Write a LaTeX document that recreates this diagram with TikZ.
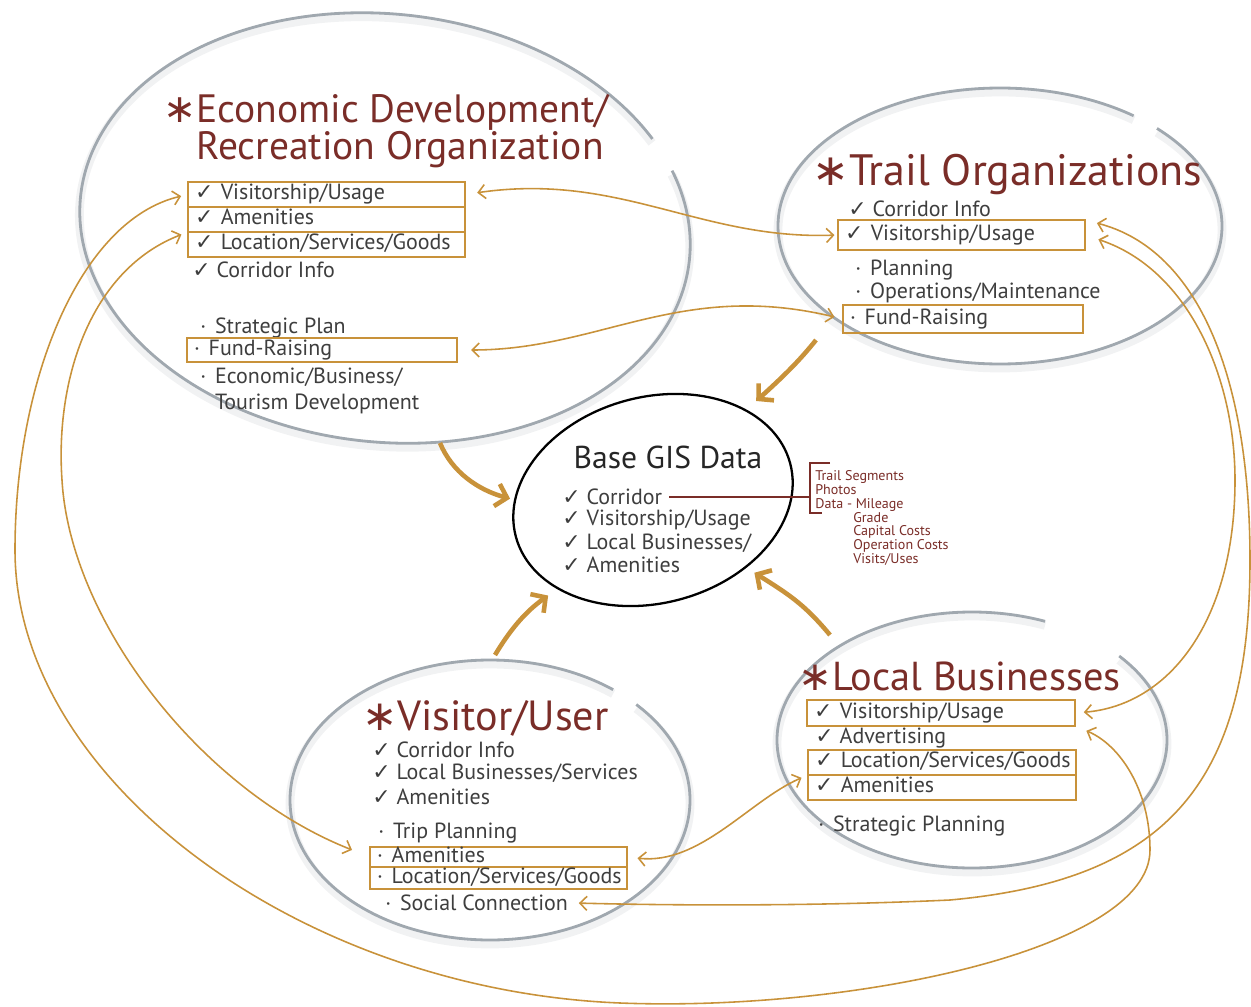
\documentclass[tikz,border=0pt]{standalone}
\usepackage{fontspec}
\setmainfont{PT Sans}
\newfontfamily\symfont{DejaVu Sans}
\usetikzlibrary{calc}
\usetikzlibrary{positioning}
\usetikzlibrary{shapes.geometric,arrows.meta}

\definecolor{ringgray}{RGB}{160,168,175}
\definecolor{boxorange}{RGB}{200,146,58}
\definecolor{titlered}{RGB}{122,45,40}
\definecolor{inkgray}{RGB}{62,62,62}

\newcommand{\chk}{{\symfont ✓}\nobreak\ }
\newcommand{\dotb}{·\nobreak\hspace{5pt}}
\newcommand{\tstar}{{\symfont ∗}}
\newcommand{\nohyph}{\hyphenpenalty=10000\relax\exhyphenpenalty=10000\relax}

\tikzset{
  ring/.style={draw=ringgray, line width=1.6pt},
  ringshade/.style={draw=ringgray!15, line width=5pt},
  title/.style={text=titlered, font=\fontsize{22.5}{21}\selectfont, anchor=west, align=left, inner sep=0pt},
  item/.style={text=inkgray, font=\fontsize{12.5}{14.5}\selectfont\nohyph,
    anchor=west, align=left, inner xsep=4pt, inner ysep=1pt},
  hl/.style={item, draw=boxorange, line width=1.1pt, outer sep=0pt, inner ysep=0pt, text width=#1,
    minimum height=0.5cm, text height=8.5pt, text depth=2.5pt},
  link/.style={draw=boxorange, line width=0.9pt, <->, >={Straight Barb[length=4pt,width=8pt]}},
  feed/.style={draw=boxorange, line width=2.6pt, -{Straight Barb[length=6pt,width=13pt]}},
  note/.style={text=titlered, font=\fontsize{8}{7.9}\selectfont, align=left, inner sep=0pt},
}

\begin{document}
\begin{tikzpicture}[x=0.02cm, y=-0.02cm]
  \useasboundingbox (0,0) rectangle (1251,1007);

  % open rings round the four groups
  \foreach \cx/\cy/\rx/\ry/\rot/\sa/\ea in {385/228/306/214/-6/-24/327, 1000/226/222/138/0/-45/307,
      490/800/200/140/0/-43/308, 972/740/195/128/0/-41/292} {
    \draw[ringshade, rotate around={\rot:(\cx,\cy)}] ({\cx+\rx*cos(\sa)},{\cy+4+\ry*sin(\sa)})
      arc[start angle=\sa, end angle=\ea, x radius=\rx, y radius=\ry];
    \draw[ring, rotate around={\rot:(\cx,\cy)}] ({\cx+\rx*cos(\sa)},{\cy+\ry*sin(\sa)})
      arc[start angle=\sa, end angle=\ea, x radius=\rx, y radius=\ry];
  }

  % Economic Development
  \node[title] (econTitle) at (163,131) {\tstar Economic Development/\\\phantom{\tstar}Recreation Organization};
  \node[hl=5.26cm, anchor=north west] (econVis) at (188,182) {\chk Visitorship/Usage};
  \node[hl=5.26cm, below=0pt of econVis] (econAmen) {\chk Amenities};
  \node[hl=5.26cm, below=0pt of econAmen] (econLoc) {\chk Location/Services/Goods};
  \node[item] (econCorr) at (185,270) {\chk Corridor Info};
  \node[item] (econPlan) at (193,328) {\dotb Strategic Plan};
  \node[hl=5.12cm, anchor=north west, minimum height=0.48cm] (econFund) at (187,338) {\dotb Fund-Raising};
  \node[item, anchor=north west] (econTour) at (193,366) {\dotb Economic/Business/\\\phantom{\dotb}Tourism Development};

  % Trail Organizations
  \node[title, font=\fontsize{25}{25}\selectfont] (trailTitle) at (812,175) {\tstar Trail Organizations};
  \node[item] (trailCorr) at (841,209) {\chk Corridor Info};
  \node[hl=4.66cm, anchor=north west, minimum height=0.6cm] (trailVis) at (838,220) {\chk Visitorship/Usage};
  \node[item] (trailPlan) at (848,270) {\dotb Planning};
  \node[item] (trailOps) at (848,293) {\dotb Operations/Maintenance};
  \node[hl=4.52cm, anchor=north west, minimum height=0.56cm] (trailFund) at (843,305) {\dotb Fund-Raising};

  % Base GIS Data
  \node[draw, ellipse, line width=1.3pt, minimum width=5.68cm, minimum height=4.12cm,
    inner sep=0pt, outer sep=0pt, rotate=15] (gis) at (653,500) {};
  \node[font=\fontsize{18}{18}\selectfont, text=black!85] (gisTitle) at (668,457) {Base GIS Data};
  \node[item] (gisCorr) at (555,497) {\chk Corridor};
  \node[item] (gisVis) at (555,520) {\chk Visitorship/Usage};
  \node[item] (gisLocal) at (555,543) {\chk Local Businesses/};
  \node[item] (gisAmen) at (555,565) {\chk Amenities};
  \node[note, anchor=north west] (gisNote) at (815,470) {Trail Segments\\Photos\\Data - Mileage\\
    \hspace*{0.76cm}Grade\\\hspace*{0.76cm}Capital Costs\\\hspace*{0.76cm}Operation Costs\\\hspace*{0.76cm}Visits/Uses};
  \coordinate (brk) at ($(gisNote.north west)+(-5,0)$);
  \draw[titlered, line width=0.6pt] ($(brk)+(20,-7)$) -| ($(brk)+(0,43)$) -- ++(12,0);
  \draw[titlered, line width=0.6pt] (gisCorr.east) -- (gisCorr.east -| brk);

  % Visitor/User
  \node[title, font=\fontsize{24}{24}\selectfont] (visTitle) at (362,718) {\tstar Visitor/User};
  \node[item] (visCorr) at (365,750) {\chk Corridor Info};
  \node[item] (visLocal) at (365,773) {\chk Local Businesses/Services};
  \node[item] (visAmenChk) at (365,797) {\chk Amenities};
  \node[item] (visTrip) at (371,833) {\dotb Trip Planning};
  \node[hl=4.86cm, anchor=north west, minimum height=0.4cm] (visAmen) at (370,847) {\dotb Amenities};
  \node[hl=4.86cm, below=0pt of visAmen, minimum height=0.44cm] (visLoc) {\dotb Location/Services/Goods};
  \node[item] (socConn) at (378,903) {\dotb Social Connection};

  % Local Businesses
  \node[title, font=\fontsize{23}{23}\selectfont] (localTitle) at (798,676) {\tstar Local Businesses};
  \node[hl=5.08cm, anchor=north west, minimum height=0.52cm] (localVis) at (807,700) {\chk Visitorship/Usage};
  \node[item] (localAdv) at (808,738) {\chk Advertising};
  \node[hl=5.08cm, anchor=north west] (localLoc) at (808,750) {\chk Location/Services/Goods};
  \node[hl=5.08cm, below=0pt of localLoc] (localAmen) {\chk Amenities};
  \node[item] (localPlan) at (811,826) {\dotb Strategic Planning};

  % feeds into the base data
  \coordinate (econOut) at (440,443);
  \coordinate (trailOut) at (816,340);
  \coordinate (visOut) at (495,655);
  \coordinate (localOut) at (830,635);
  \draw[feed, shorten >=3pt] (econOut) .. controls (452,472) and (478,490) .. (gis.165);
  \draw[feed, shorten >=8pt] (trailOut) .. controls (800,360) and (785,375) .. (gis.29);
  \draw[feed, shorten >=7pt] (visOut) .. controls (510,630) and (525,612) .. (gis.208);
  \draw[feed, shorten >=6pt] (localOut) .. controls (805,605) and (790,595) .. (gis.-51);

  % links between groups
  \draw[link, shorten <=7pt, shorten >=2pt] (econVis.east) .. controls (620,172) and (700,240) .. (trailVis.west);
  \draw[link, shorten <=8pt, shorten >=5pt] (econFund.east) .. controls (600,350) and (680,280) .. (trailFund.west);
  \draw[link, shorten <=4pt, shorten >=7pt] (econVis.west) .. controls (80,220) and (15,380) .. (15,550)
    .. controls (15,780) and (300,990) .. (620,1003) .. controls (850,1012) and (1150,950) .. (1150,850)
    .. controls (1150,790) and (1120,745) .. (localVis.south east);
  \draw[link, shorten <=4pt, shorten >=11pt] (econAmen.south west) .. controls (90,270) and (55,380) .. (62,480)
    .. controls (70,620) and (200,790) .. (visAmen.west);
  \draw[link, shorten <=7pt, shorten >=2pt] (trailVis.north east) .. controls (1200,250) and (1250,380) .. (1250,560)
    .. controls (1250,780) and (1170,880) .. (950,900) .. controls (800,907) and (650,905) .. (socConn.east);
  \draw[link, shorten <=8pt, shorten >=5pt] (trailVis.east) .. controls (1190,270) and (1235,380) .. (1235,480)
    .. controls (1235,620) and (1170,705) .. (localVis.east);
  \draw[link, shorten <=6pt, shorten >=4pt] (visAmen.east) .. controls (700,865) and (750,800) .. (localLoc.south west);

\end{tikzpicture}
\end{document}
